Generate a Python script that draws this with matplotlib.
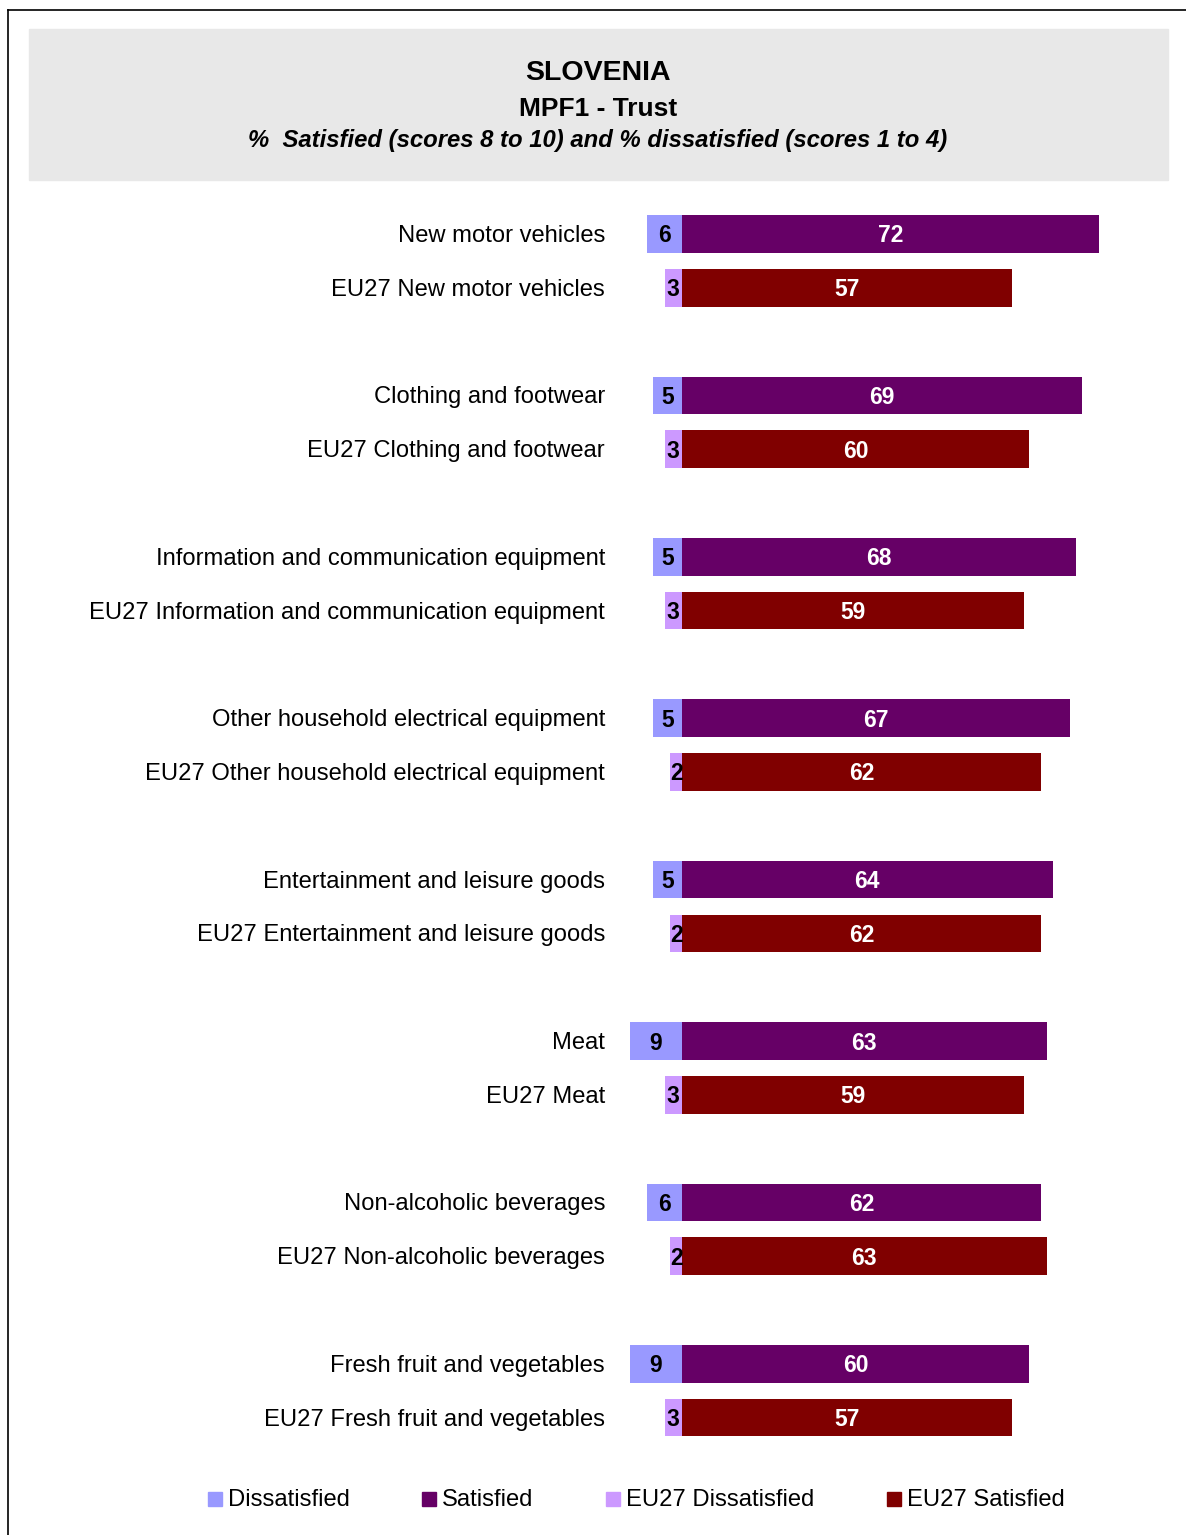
import matplotlib.pyplot as plt
from matplotlib.patches import Rectangle
from matplotlib.lines import Line2D
import numpy as np

plt.rcParams['font.family'] = ['Liberation Sans', 'DejaVu Sans']

categories = ["New motor vehicles", "Clothing and footwear",
              "Information and communication equipment",
              "Other household electrical equipment",
              "Entertainment and leisure goods", "Meat",
              "Non-alcoholic beverages", "Fresh fruit and vegetables"]
dissatisfied = [6, 5, 5, 5, 5, 9, 6, 9]
satisfied = [72, 69, 68, 67, 64, 63, 62, 60]
eu_dissatisfied = [3, 3, 3, 2, 2, 3, 2, 3]
eu_satisfied = [57, 60, 59, 62, 62, 59, 63, 57]

c_dis = '#9999FF'
c_sat = '#660066'
c_eudis = '#CC99FF'
c_eusat = '#800000'

W, H = 1186, 1535
fig = plt.figure(figsize=(W / 100, H / 100), dpi=100)

def fx(px):
    return px / W

def fy(py):
    return 1 - py / H

# frame and title box
fig.add_artist(Line2D([fx(8), fx(8)], [fy(10), 0], color='black', lw=1.2))
fig.add_artist(Line2D([fx(8), 1], [fy(10), fy(10)], color='black', lw=1.2))
fig.add_artist(Rectangle((fx(29), fy(180)), fx(1168) - fx(29), fy(29) - fy(180),
                         transform=fig.transFigure, color='#E8E8E8', zorder=0))
fig.text(fx(598), fy(73), 'SLOVENIA', ha='center', va='center', fontsize=20.5, fontweight='bold')
fig.text(fx(598), fy(109), 'MPF1 - Trust', ha='center', va='center', fontsize=19, fontweight='bold')
fig.text(fx(598), fy(141), '%  Satisfied (scores 8 to 10) and % dissatisfied (scores 1 to 4)',
         ha='center', va='center', fontsize=17.2, fontweight='bold', style='italic')

# axes: zero at px 682, 5.79 px per unit
ax_l, ax_r = 620, 1160
scale = 5.79
x0 = 682
ax_t, ax_b = 200, 1450
pitch = 53.8
ax = fig.add_axes([fx(ax_l), fy(ax_b), fx(ax_r) - fx(ax_l), fy(ax_t) - fy(ax_b)])
ax.set_xlim((ax_l - x0) / scale, (ax_r - x0) / scale)
ax.set_ylim((ax_b - 234) / pitch, -(234 - ax_t) / pitch)
ax.axis('off')

n = len(categories)
y_main = np.arange(n) * 3
y_eu = y_main + 1
bh = 0.7
dy = 2 / pitch  # nudge text down a couple of pixels

ax.barh(y_main, satisfied, height=bh, color=c_sat)
ax.barh(y_main, [-d for d in dissatisfied], height=bh, color=c_dis)
ax.barh(y_eu, eu_satisfied, height=bh, color=c_eusat)
ax.barh(y_eu, [-d for d in eu_dissatisfied], height=bh, color=c_eudis)

vfs = 16.5
lfs = 17.1
for i in range(n):
    ax.text(satisfied[i] / 2, y_main[i] + dy, str(satisfied[i]), ha='center', va='center',
            color='white', fontsize=vfs, fontweight='bold')
    ax.text(-dissatisfied[i] / 2, y_main[i] + dy, str(dissatisfied[i]), ha='center', va='center',
            color='black', fontsize=vfs, fontweight='bold')
    ax.text(eu_satisfied[i] / 2, y_eu[i] + dy, str(eu_satisfied[i]), ha='center', va='center',
            color='white', fontsize=vfs, fontweight='bold')
    ax.text(-eu_dissatisfied[i] / 2, y_eu[i] + dy, str(eu_dissatisfied[i]), ha='center', va='center',
            color='black', fontsize=vfs, fontweight='bold')
    ax.text((605 - x0) / scale, y_main[i] + dy, categories[i], ha='right', va='center', fontsize=lfs)
    ax.text((605 - x0) / scale, y_eu[i] + dy, 'EU27 ' + categories[i], ha='right', va='center', fontsize=lfs)

# legend
leg_items = [('Dissatisfied', c_dis, 208), ('Satisfied', c_sat, 422),
             ('EU27 Dissatisfied', c_eudis, 606), ('EU27 Satisfied', c_eusat, 887)]
for label, col, px in leg_items:
    fig.add_artist(Rectangle((fx(px), fy(1506)), fx(14), 14 / H,
                             transform=fig.transFigure, color=col))
    fig.text(fx(px + 20), fy(1500), label, ha='left', va='center', fontsize=lfs)

fig.savefig('out.png', dpi=100)
